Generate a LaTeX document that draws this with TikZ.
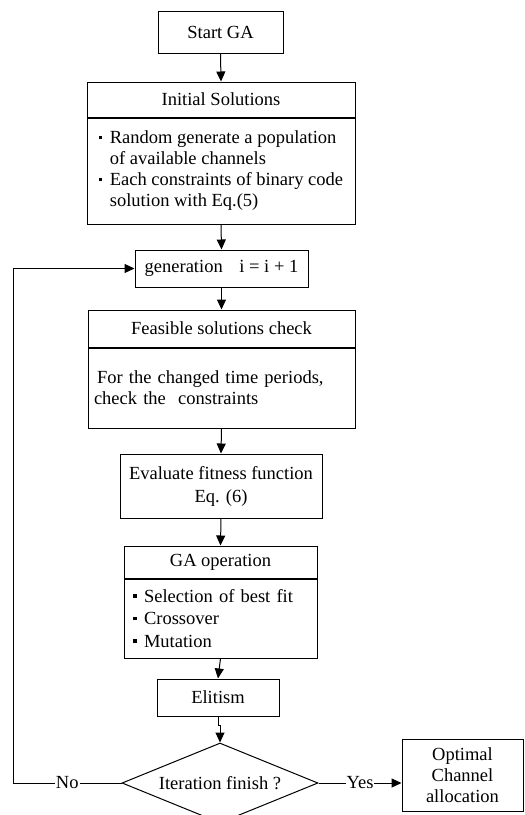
\documentclass[tikz,border=0pt]{standalone}
\usepackage{fontspec}
\setmainfont{Liberation Serif}
\usetikzlibrary{arrows.meta,shapes.geometric}

% small square bullet with a hanging width
\newcommand\sqbul{\makebox[11pt][l]{\raisebox{4.5pt}{\rule{3.6pt}{3.6pt}}}}

\begin{document}
\begin{tikzpicture}[x=1pt,y=-1pt,
  font=\fontsize{18.5}{21}\selectfont,
  line width=1pt,
  box/.style={draw, rectangle, inner sep=0pt, align=center},
  arr/.style={-{Triangle[length=10pt,width=9pt]}},
  lbl/.style={fill=white, inner sep=1pt}
]
\useasboundingbox (0,0) rectangle (525,815);

% process blocks
\node[box, minimum width=125, minimum height=42] (start) at (220.5,32) {Start GA};

\node[box, minimum width=268, minimum height=35] (inith) at (221,99.5) {Initial Solutions};
\node[box, minimum width=268, minimum height=106, anchor=north, align=left] (initb) at (inith.south)
  {\sqbul Random generate a population\\
   \hspace*{11pt}of available channels\\
   \sqbul Each constraints of binary code\\
   \hspace*{11pt}solution with Eq.(5)};

\node[box, minimum width=173, minimum height=37] (gen) at (221.5,268.5) {generation\hspace{0.9em}i = i + 1};

\node[box, minimum width=267, minimum height=37] (feash) at (221.5,328.5) {Feasible solutions check};
\node[box, minimum width=267, minimum height=80, anchor=north, align=left, text width=255, inner xsep=6pt] (feasb) at (feash.south)
  {\hspace*{3pt}For the changed time periods,\\check the\ \ constraints};

\node[box, minimum width=202, minimum height=64, align=center] (evalf) at (221,486)
  {Evaluate fitness function\\[2pt]Eq. (6)};

\node[box, minimum width=193, minimum height=32] (gah) at (220.5,562) {GA operation};
\node[box, minimum width=193, minimum height=79, anchor=north, align=left, text width=175, inner xsep=9pt] (gab) at (gah.south)
  {\sqbul Selection of best fit\\[1.5pt]
   \sqbul Crossover\\[1.5pt]
   \sqbul Mutation};

\node[box, minimum width=122, minimum height=37] (elit) at (218,697.5) {Elitism};

\node[draw, diamond, aspect=2.45, inner sep=0pt, minimum width=196, minimum height=80] (dec) at (220,783) {Iteration finish ?};

\node[box, minimum width=121, minimum height=72] (opt) at (462.5,775) {Optimal\\Channel\\allocation};

\coordinate (back) at (13,783);

% connectors
\draw[arr] (start.south) -- (inith.north);
\draw[arr] (initb.south) -- (gen.north);
\draw[arr] (gen.south) -- (feash.north);
\draw[arr] (feasb.south) -- (evalf.north);
\draw[arr] (evalf.south) -- (gah.north);
\draw[arr] (gab.south) -- (elit.north);
\draw[arr] (elit.south) -- ++(0,9) -| (dec.north);
\draw[arr] (dec.east) -- node[lbl] {Yes} (dec.east -| opt.west);
\draw (dec.west) -- node[lbl] {No} (back);
\draw[arr] (back) |- (gen.west);
\end{tikzpicture}
\end{document}
